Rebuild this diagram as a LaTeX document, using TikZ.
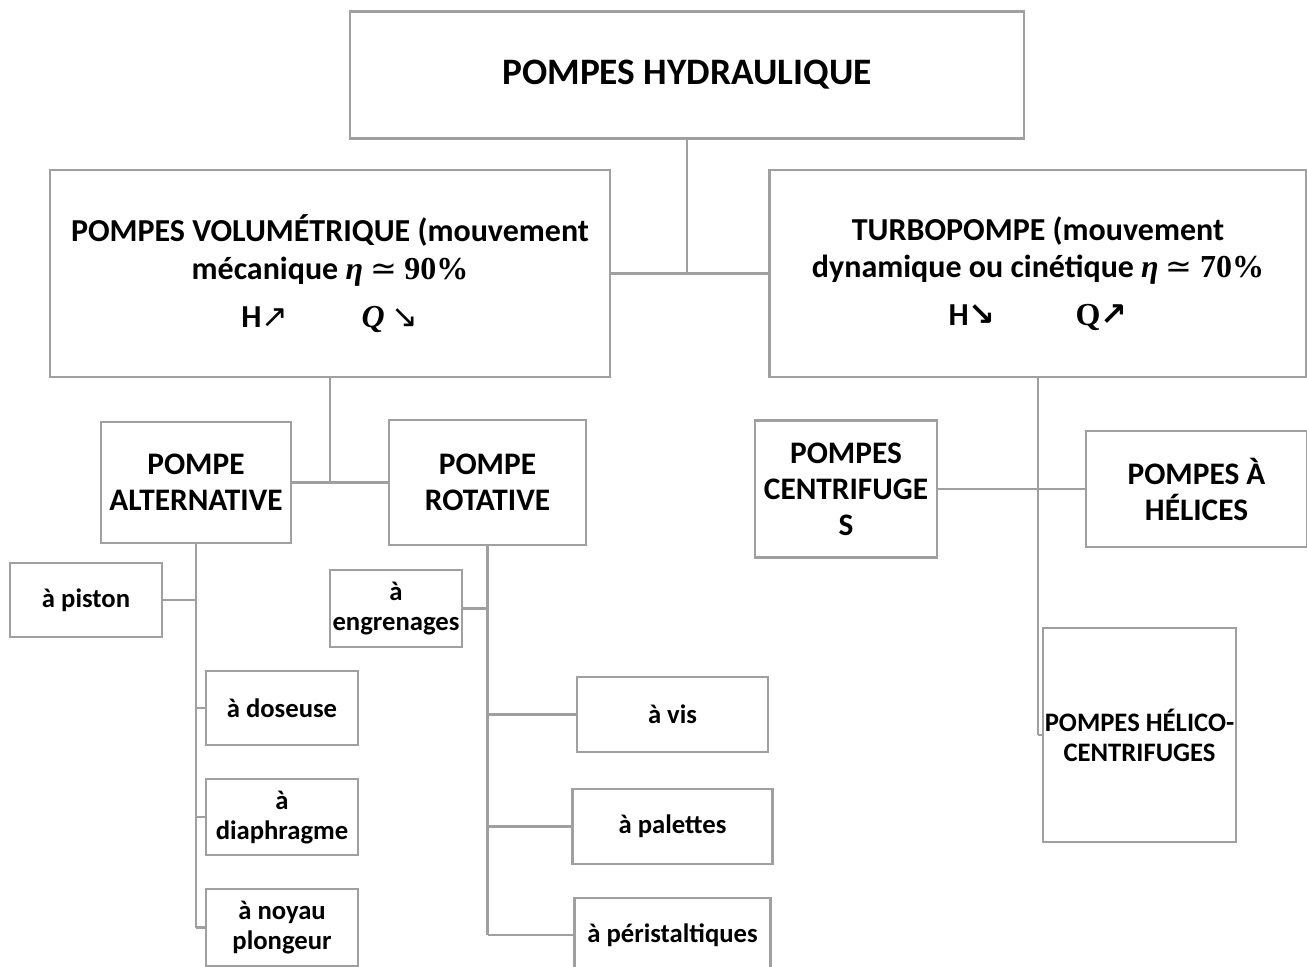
\documentclass[tikz,border=0pt]{standalone}
\usepackage{fontspec}
\setmainfont{Carlito}
\newfontfamily\arrowfont{DejaVu Sans}
\newfontfamily\serifmath{Liberation Serif}
\usetikzlibrary{positioning}
\definecolor{linegray}{RGB}{160,160,160}
\tikzstyle{box} = [draw=linegray, line width=1.6pt, align=center, inner sep=1pt]
\tikzstyle{huge} = [font=\fontsize{28}{32}\selectfont\bfseries]
\tikzstyle{big} = [font=\fontsize{23.5}{27}\selectfont\bfseries]
\tikzstyle{mid} = [font=\fontsize{24}{28}\selectfont\bfseries]
\tikzstyle{small} = [font=\fontsize{20}{22.5}\selectfont\bfseries]
\tikzstyle{link} = [draw=linegray, line width=2pt]
\newcommand{\etaval}[1]{{\serifmath\itshape η} {\arrowfont\mdseries ≃} {\serifmath #1\%}}

\begin{document}
\begin{tikzpicture}[x=0.75pt, y=-0.75pt]
		\useasboundingbox (0,0) rectangle (1307,967);
		% top level
		\node (title) [box, huge, minimum width=505.5pt, minimum height=95.25pt] at (687,75) {POMPES HYDRAULIQUE};
		\node (vol) [box, mid, minimum width=420pt, minimum height=155.25pt] at (330,273.5) {POMPES VOLUMÉTRIQUE (mouvement\\ mécanique \etaval{90}\\[8pt] H{\arrowfont\mdseries ↗}\hspace{55pt}{\serifmath\itshape Q} {\arrowfont\mdseries ↘}};
		\node (turbo) [box, mid, minimum width=402.75pt, minimum height=155.25pt] at (1038,273.5) {TURBOPOMPE (mouvement\\ dynamique ou cinétique \etaval{70}\\[8pt] H{\arrowfont ↘}\hspace{60pt}{\serifmath Q}{\arrowfont ↗}};
		\draw [link] (title.south) -- (title.south |- vol.east);
		\draw [link] (vol.east) -- (turbo.west);
		% volumetric pumps
		\node (alt) [box, big, minimum width=142.5pt, minimum height=90.75pt] at (196,482.5) {POMPE\\ ALTERNATIVE};
		\node (rot) [box, big, minimum width=147.75pt, minimum height=93.75pt] at (487.5,482.5) {POMPE\\ ROTATIVE};
		\draw [link] (vol.south) -- (vol.south |- alt.east);
		\draw [link] (alt.east) -- (rot.west);
		% reciprocating
		\node (piston) [box, small, minimum width=114pt, minimum height=55.5pt] at (86,600) {à piston};
		\node (doseuse) [box, small, minimum width=114pt, minimum height=55.5pt] at (282,708) {à doseuse};
		\node (diaph) [box, small, minimum width=114pt, minimum height=57pt, below=24pt of doseuse] {à\\ diaphragme};
		\node (noyau) [box, small, minimum width=114pt, minimum height=57.75pt, below=24pt of diaph] {à noyau\\ plongeur};
		\draw [link] (alt.south) -- (alt.south |- noyau.west);
		\draw [link] (piston.east) -- (alt.south |- piston.east);
		\draw [link] (alt.south |- doseuse.west) -- (doseuse.west);
		\draw [link] (alt.south |- diaph.west) -- (diaph.west);
		\draw [link] (alt.south |- noyau.west) -- (noyau.west);
		% rotary
		\node (engr) [box, small, minimum width=99pt, minimum height=57.75pt] at (396,608.5) {à\\ engrenages};
		\node (vis) [box, small, minimum width=143.25pt, minimum height=56.25pt] at (672.5,714.5) {à vis};
		\node (palettes) [box, small, minimum width=150pt, minimum height=56.25pt, below=26pt of vis] {à palettes};
		\node (perist) [box, small, minimum width=147pt, minimum height=55.5pt, below=24pt of palettes] {à péristaltiques};
		\draw [link] (rot.south) -- (rot.south |- perist.west);
		\draw [link] (engr.east) -- (rot.south |- engr.east);
		\draw [link] (rot.south |- vis.west) -- (vis.west);
		\draw [link] (rot.south |- palettes.west) -- (palettes.west);
		\draw [link] (rot.south |- perist.west) -- (perist.west);
		% turbopumps
		\node (centr) [box, big, minimum width=136.5pt, minimum height=102.75pt] at (846,489) {POMPES\\ CENTRIFUGE\\ S};
		\node (helices) [box, big, minimum width=165.75pt, minimum height=87pt] at (1196.5,489) {POMPES À\\ HÉLICES};
		\node (helico) [box, small, minimum width=144.75pt, minimum height=160.5pt] at (1139.5,735) {POMPES HÉLICO-\\ CENTRIFUGES};
		\draw [link] (turbo.south) -- (turbo.south |- helico.west);
		\draw [link] (centr.east) -- (helices.west);
		\draw [link] (turbo.south |- helico.west) -- (helico.west);
\end{tikzpicture}
\end{document}
